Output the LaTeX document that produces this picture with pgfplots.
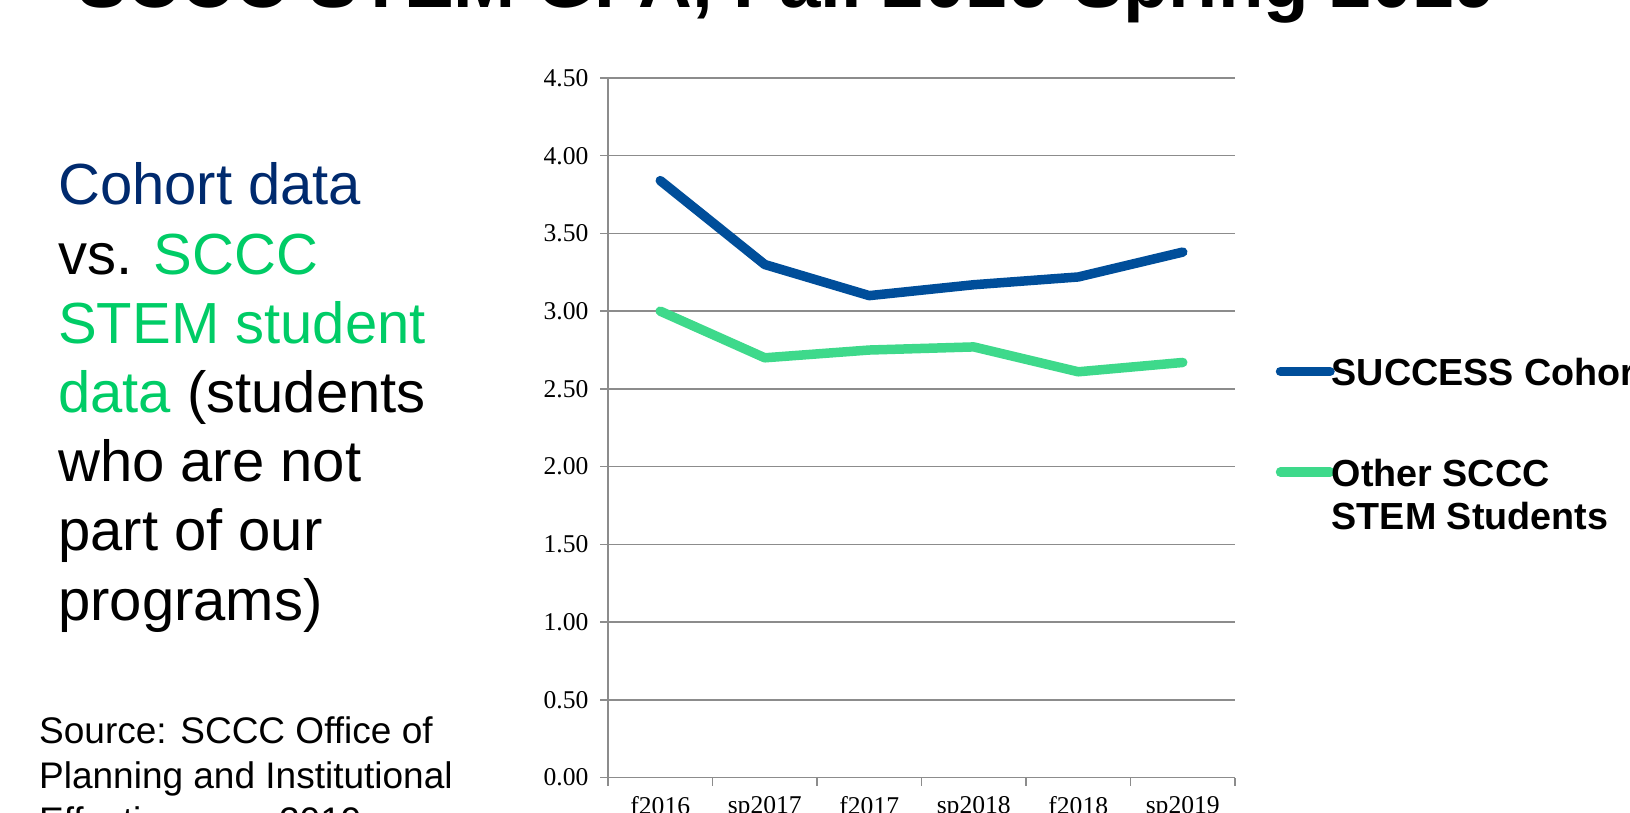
\documentclass[border=0pt]{standalone}
\usepackage{pgfplots}
\pgfplotsset{compat=1.18}
\usepackage{fontspec}
\setmainfont{Liberation Sans}
\newfontfamily\tnr{Liberation Serif}
\definecolor{cblue}{HTML}{004E9A}
\definecolor{cgreen}{HTML}{3ED98B}
\definecolor{tblue}{HTML}{002A6E}
\definecolor{tgreen}{HTML}{00CC66}
\definecolor{gridgray}{HTML}{8C8C8C}
\begin{document}
\begin{tikzpicture}[x=1pt,y=1pt]
\useasboundingbox (0,0) rectangle (1630,812);
\clip (0,0) rectangle (1630,812);
% title (cut at top)
\node[anchor=base west, inner sep=0pt, font=\bfseries\fontsize{74.5}{80}\selectfont] at (77,804) {SCCC STEM GPA, Fall 2016-Spring 2019};
% left text
\node[anchor=base west, inner sep=0pt, font=\fontsize{58}{69.2}\selectfont] at (58,607)
{\begin{tabular}[t]{@{}l@{}}
\textcolor{tblue}{Cohort data}\\
vs. \textcolor{tgreen}{SCCC}\\
\textcolor{tgreen}{STEM student}\\
\textcolor{tgreen}{data} (students\\
who are not\\
part of our\\
programs)
\end{tabular}};
\node[anchor=base west, inner sep=0pt, font=\fontsize{37}{45}\selectfont] at (39,69)
{\begin{tabular}[t]{@{}l@{}}
Source: SCCC Office of\\
Planning and Institutional\\
Effectiveness, 2019
\end{tabular}};
\begin{axis}[
  at={(608pt,34.5pt)}, anchor=south west,
  scale only axis, width=627pt, height=699.5pt,
  xmin=0, xmax=6, ymin=0, ymax=4.5,
  axis x line*=bottom, axis y line*=left,
  axis line style={draw=gridgray, line width=1.5pt},
  xtick={0,1,2,3,4,5,6}, xticklabels={},
  extra x ticks={0.5,1.5,2.5,3.5,4.5,5.5},
  extra x tick labels={f2016,sp2017,f2017,sp2018,f2018,sp2019},
  extra x tick style={major tick length=0pt, tick style={draw=none},
    xticklabel style={yshift=-15pt}},
  ytick={0,0.5,1,1.5,2,2.5,3,3.5,4,4.5},
  yticklabel style={/pgf/number format/fixed, /pgf/number format/fixed zerofill, /pgf/number format/precision=2, xshift=-8pt},
  ymajorgrids, grid style={draw=gridgray, line width=1.5pt},
  tick align=outside, major tick length=8pt,
  tick style={draw=gridgray, line width=1.5pt},
  /pgf/number format/assume math mode=true,
  tick label style={font=\tnr\fontsize{25.6}{30}\selectfont},
  clip=false,
  legend style={at={(1.0650,0.6031)}, anchor=north west, draw=none, fill=none,
    inner sep=0pt, outer sep=0pt, row sep=69pt, column sep=-3pt,
    font=\bfseries\fontsize{37.7}{43}\selectfont, nodes={inner sep=0pt}},
  legend cell align=left,
  legend image code/.code={\draw[#1, line cap=round] (0pt,0pt) -- (49.5pt,0pt);},
]
\addplot[color=cblue, line width=9.5pt, line cap=round, line join=round] coordinates {
(0.5,3.84) (1.5,3.30) (2.5,3.10) (3.5,3.17) (4.5,3.22) (5.5,3.38)};
\addlegendentry{\begin{tabular}[t]{@{}l@{}}SUCCESS Cohort\end{tabular}}
\addplot[color=cgreen, line width=9.5pt, line cap=round, line join=round] coordinates {
(0.5,3.00) (1.5,2.70) (2.5,2.75) (3.5,2.77) (4.5,2.61) (5.5,2.67)};
\addlegendentry{\begin{tabular}[t]{@{}l@{}}Other SCCC\\STEM Students\end{tabular}}
\end{axis}
\end{tikzpicture}
\end{document}
